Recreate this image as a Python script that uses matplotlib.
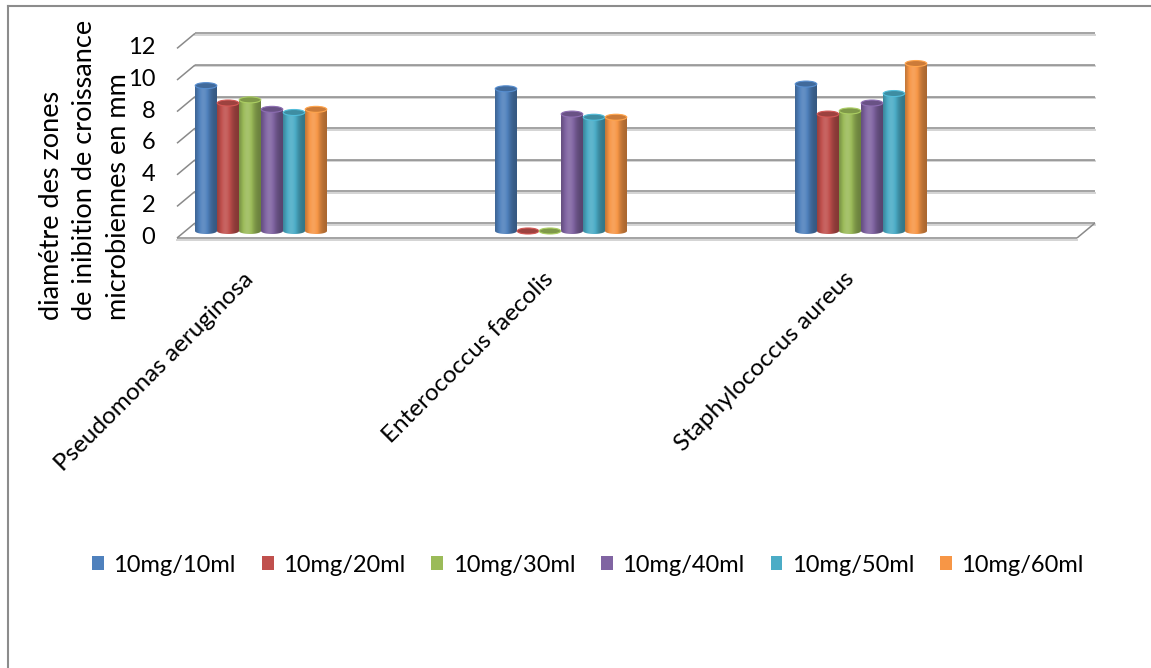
import numpy as np
import matplotlib.pyplot as plt
import matplotlib.transforms as mtransforms
from matplotlib.patches import Ellipse, Polygon, Patch
from matplotlib.colors import to_rgb

plt.rcParams['font.family'] = ['Lato', 'DejaVu Sans']

# inhibition zone diameters (mm) per bacterium and dilution
bacteria = ['Pseudomonas aeruginosa', 'Enterococcus faecolis', 'Staphylococcus aureus']
dilutions = ['10mg/10ml', '10mg/20ml', '10mg/30ml', '10mg/40ml', '10mg/50ml', '10mg/60ml']
pseudomonas = [9.2, 8.1, 8.3, 7.7, 7.5, 7.7]
enterococcus = [9.0, 0.0, 0.0, 7.4, 7.2, 7.2]
staphylococcus = [9.3, 7.4, 7.6, 8.1, 8.7, 10.6]
yticks = [0, 2, 4, 6, 8, 10, 12]

colors = ['#4F81BD', '#C0504D', '#9BBB59', '#8064A2', '#4BACC6', '#F79646']

W, H = 1151, 668
fig = plt.figure(figsize=(W / 100, H / 100), dpi=100)

# plane through the middle of the bars: 0 at y=231px, 15.8px per mm
y0_px, ppu = 231.0, 15.8
ymin, ymax = -0.6, 12.4
ax_left, ax_right = 186, 1086
bottom_px = y0_px - ymin * ppu
top_px = y0_px - ymax * ppu
ax = fig.add_axes([ax_left / W, (H - bottom_px) / H,
                   (ax_right - ax_left) / W, (bottom_px - top_px) / H])
xmin, xmax = -0.25, 2.75
ax.set_xlim(xmin, xmax)
ax.set_ylim(ymin, ymax)
for s in ax.spines.values():
    s.set_visible(False)
ax.patch.set_visible(False)

# fake 3D walls: back wall and front edge shifted a few pixels
back = ax.transData + mtransforms.ScaledTranslation(0.09, 0.08, fig.dpi_scale_trans)
front = ax.transData + mtransforms.ScaledTranslation(-0.09, -0.07, fig.dpi_scale_trans)
shadow = mtransforms.ScaledTranslation(0.0, -0.015, fig.dpi_scale_trans)
grid_kw = dict(color='#8a8a8a', lw=1.1, zorder=1, clip_on=False, solid_capstyle='butt')
shadow_kw = dict(color='#d4d4d4', lw=1.4, zorder=0.9, clip_on=False)

for v in yticks:
    ax.plot([xmin, xmax], [v, v], transform=back + shadow, **shadow_kw)
    ax.plot([xmin, xmax], [v, v], transform=back, **grid_kw)
    # diagonal on the left side wall
    p_front = front.transform((xmin, v))
    p_back = back.transform((xmin, v))
    ax.plot([p_front[0], p_back[0]], [p_front[1], p_back[1]],
            transform=None, **grid_kw)

# floor: front edge and right diagonal
ax.plot([xmin, xmax], [0, 0], transform=front + shadow, **shadow_kw)
ax.plot([xmin, xmax], [0, 0], transform=front, **grid_kw)
pf = front.transform((xmax, 0))
pb = back.transform((xmax, 0))
ax.plot([pf[0], pb[0]], [pf[1], pb[1]], transform=None, **grid_kw)

# cylinder shading across a bar
t = np.linspace(0, 1, 48)
shade = 0.68 + 0.45 * np.exp(-((t - 0.38) / 0.32) ** 2)


def shaded(rgb):
    rgb = np.array(rgb)
    out = []
    for f in shade:
        if f <= 1:
            out.append(rgb * f)
        else:
            out.append(rgb + (1 - rgb) * (f - 1) * 0.9)
    return np.clip(np.array(out), 0, 1)


bar_w = 22 / 300
ell_h = 6 / ppu
values = [pseudomonas, enterococcus, staphylococcus]

for i, series in enumerate(values):
    for j, h in enumerate(series):
        xc = i + (j - 2.5) * bar_w
        x0, x1 = xc - bar_w / 2, xc + bar_w / 2
        rgb = to_rgb(colors[j])
        grad = shaded(rgb)[np.newaxis, :, :]
        theta = np.linspace(np.pi, 2 * np.pi, 30)
        outline = [(x0, h), (x0, 0)]
        outline += list(zip(xc + bar_w / 2 * np.cos(theta), ell_h / 2 * np.sin(theta)))
        outline += [(x1, 0), (x1, h)]
        body = Polygon(outline, closed=True, transform=ax.transData)
        im = ax.imshow(grad, extent=(x0, x1, -ell_h / 2, h), aspect='auto',
                       interpolation='bilinear', zorder=3)
        im.set_clip_path(body)
        top_col = np.array(rgb) * 0.82
        ax.add_patch(Ellipse((xc, h), bar_w * 0.98, ell_h, facecolor=top_col,
                             edgecolor=np.clip(np.array(rgb) * 1.1, 0, 1),
                             lw=0.8, zorder=4))

ax.set_xlim(xmin, xmax)
ax.set_ylim(ymin, ymax)

ax.set_yticks(yticks)
ax.set_yticklabels([str(v) for v in yticks])
ax.tick_params(axis='y', length=0, pad=22, labelsize=17)
for lab in ax.get_yticklabels():
    lab.set_transform(lab.get_transform() +
                      mtransforms.ScaledTranslation(0, -0.045, fig.dpi_scale_trans))

ax.set_xticks(range(len(bacteria)))
ax.set_xticklabels(bacteria, rotation=45, ha='right', fontsize=17.5)
ax.tick_params(axis='x', length=0, pad=20)
for lab in ax.get_xticklabels():
    lab.set_transform(lab.get_transform() +
                      mtransforms.ScaledTranslation(-0.03, 0, fig.dpi_scale_trans))

fig.text(85 / W, (H - 320) / H,
         'diamétre des zones\nde inibition de croissance\nmicrobiennes en mm',
         rotation=90, ha='center', va='bottom', multialignment='left',
         fontsize=19.5, linespacing=1.4)

handles = [Patch(facecolor=c, edgecolor='none') for c in colors]
fig.legend(handles, dilutions, loc='center', bbox_to_anchor=(588 / W, (H - 565) / H),
           ncol=6, frameon=False, fontsize=17, handlelength=0.5, handleheight=0.5,
           handletextpad=0.4, columnspacing=1.1)

# chart border (left and top edges)
fig.add_artist(plt.Line2D([8 / W, 8 / W], [0, 1 - 6 / H], color='#8c8c8c', lw=1.5))
fig.add_artist(plt.Line2D([8 / W, 1], [1 - 6 / H, 1 - 6 / H], color='#8c8c8c', lw=1.5))

fig.savefig('out.png', dpi=100)
